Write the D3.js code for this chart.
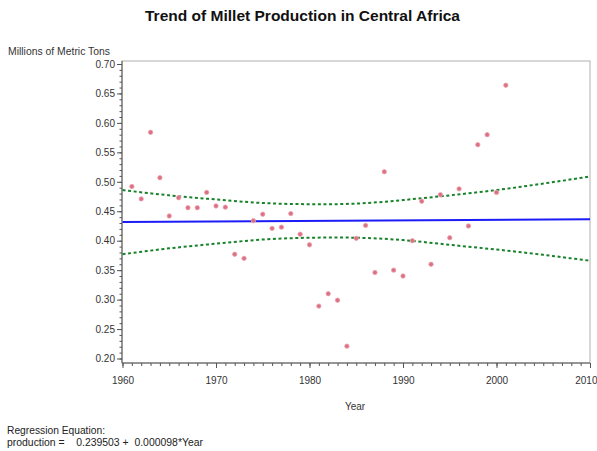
<!DOCTYPE html>
<html>
<head>
<meta charset="utf-8">
<script src="https://cdn.jsdelivr.net/npm/d3@7"></script>
<style>
  html, body { margin: 0; padding: 0; background: #fff; }
  svg { display: block; }
  text { font-family: "Liberation Sans", Arial, sans-serif; }
</style>
</head>
<body>
<svg id="chart" width="597" height="451"></svg>
<script>
// Annual millet production, Central Africa (millions of metric tons)
const years = [1961, 1962, 1963, 1964, 1965, 1966, 1967, 1968, 1969, 1970,
               1971, 1972, 1973, 1974, 1975, 1976, 1977, 1978, 1979, 1980,
               1981, 1982, 1983, 1984, 1985, 1986, 1987, 1988, 1989, 1990,
               1991, 1992, 1993, 1994, 1995, 1996, 1997, 1998, 1999, 2000, 2001];
const production = [0.492, 0.471, 0.584, 0.507, 0.442, 0.473, 0.456, 0.456, 0.482, 0.459,
                    0.457, 0.377, 0.370, 0.434, 0.445, 0.421, 0.423, 0.446, 0.411, 0.393,
                    0.289, 0.310, 0.299, 0.221, 0.404, 0.426, 0.346, 0.517, 0.350, 0.340,
                    0.400, 0.467, 0.360, 0.478, 0.405, 0.488, 0.425, 0.563, 0.580, 0.482, 0.664];

// Fitted regression: production = intercept + slope * Year
const intercept = 0.239503;
const slope = 0.000098;

// 95% confidence limits for the mean
const bandYears = [1960, 1965, 1970, 1975, 1980, 1985, 1990, 1995, 2000, 2005, 2010];
const bandUpper = [0.486, 0.477, 0.470, 0.464, 0.462, 0.463, 0.469, 0.477, 0.486, 0.497, 0.509];
const bandLower = [0.377, 0.387, 0.395, 0.402, 0.405, 0.405, 0.401, 0.393, 0.385, 0.376, 0.366];

// Axis ticks
const xTicks = [1960, 1970, 1980, 1990, 2000, 2010];
const yTicks = [0.20, 0.25, 0.30, 0.35, 0.40, 0.45, 0.50, 0.55, 0.60, 0.65, 0.70];

const svg = d3.select("#chart");

const x = d3.scaleLinear().domain([1960, 2010]).range([122.5, 590]);
const y = d3.scaleLinear().domain([0.20, 0.70]).range([358.5, 64]);

const frame = { left: 122, right: 590, top: 61, bottom: 363 };
const fontStack = "'Liberation Sans', Arial, sans-serif";

// Plot frame (light top/right edges)
svg.append("rect")
  .attr("x", frame.left).attr("y", frame.top)
  .attr("width", frame.right - frame.left)
  .attr("height", frame.bottom - frame.top)
  .attr("fill", "none").attr("stroke", "#b0b0b0").attr("stroke-width", 1);

// Y axis: major and minor ticks
const yMinor = d3.range(0.20, 0.7001, 0.01).map(v => +v.toFixed(2));
const yAxisMinor = svg.append("g")
  .attr("transform", `translate(${frame.left},0)`)
  .call(d3.axisLeft(y).tickValues(yMinor).tickSize(2.5).tickFormat(""));
yAxisMinor.select(".domain").remove();
yAxisMinor.selectAll("line").attr("stroke", "#555");

const yAxis = svg.append("g")
  .attr("transform", `translate(${frame.left},0)`)
  .call(d3.axisLeft(y).tickValues(yTicks).tickSize(5).tickPadding(2)
    .tickFormat(d3.format(".2f")));
yAxis.select(".domain").attr("d", `M0,${frame.top}V${frame.bottom}`).attr("stroke", "#555");
yAxis.selectAll("line").attr("stroke", "#555");
yAxis.selectAll("text")
  .attr("font-size", 10).attr("fill", "#333")
  .style("font-family", fontStack);

// X axis: yearly minor ticks and decade labels
const xMinor = d3.range(1960, 2011, 1);
const xAxisMinor = svg.append("g")
  .attr("transform", `translate(0,${frame.bottom})`)
  .call(d3.axisBottom(x).tickValues(xMinor).tickSize(3).tickFormat(""));
xAxisMinor.select(".domain").remove();
xAxisMinor.selectAll("line").attr("stroke", "#555");

const xAxis = svg.append("g")
  .attr("transform", `translate(0,${frame.bottom})`)
  .call(d3.axisBottom(x).tickValues(xTicks).tickSize(5).tickPadding(9)
    .tickFormat(d3.format("d")));
xAxis.select(".domain").attr("d", `M${frame.left},0H${frame.right}`).attr("stroke", "#555");
xAxis.selectAll("line").attr("stroke", "#555");
xAxis.selectAll("text")
  .attr("font-size", 10).attr("fill", "#333")
  .style("font-family", fontStack);
// keep the last year label inside the canvas
xAxis.selectAll(".tick").filter(d => d === 2010).select("text")
  .attr("text-anchor", "end").attr("x", 7);

// Confidence limits
const bandLine = d3.line().curve(d3.curveNatural);
[bandUpper, bandLower].forEach(vals => {
  svg.append("path")
    .attr("d", bandLine(bandYears.map((yr, i) => [x(yr), y(vals[i])])))
    .attr("fill", "none")
    .attr("stroke", "#17822a")
    .attr("stroke-width", 2)
    .attr("stroke-dasharray", "3,2.6");
});

// Regression line
svg.append("line")
  .attr("x1", x(1960)).attr("y1", y(intercept + slope * 1960))
  .attr("x2", x(2010)).attr("y2", y(intercept + slope * 2010))
  .attr("stroke", "#1c1cf8").attr("stroke-width", 2);

// Observations
svg.append("g").selectAll("circle")
  .data(years.map((yr, i) => ({ yr, v: production[i] })))
  .join("circle")
  .attr("cx", d => x(d.yr))
  .attr("cy", d => y(d.v))
  .attr("r", 2.2)
  .attr("fill", "#dd6f82")
  .attr("stroke", "#eaa3b0")
  .attr("stroke-width", 0.8);

// Title
svg.append("text")
  .attr("x", 302.5).attr("y", 21)
  .attr("text-anchor", "middle")
  .attr("font-size", 14).attr("font-weight", "bold").attr("fill", "#111")
  .attr("textLength", 315).attr("lengthAdjust", "spacingAndGlyphs")
  .text("Trend of Millet Production in Central Africa");

// Axis titles
svg.append("text")
  .attr("x", 8).attr("y", 55)
  .attr("font-size", 10).attr("fill", "#333")
  .attr("textLength", 102).attr("lengthAdjust", "spacingAndGlyphs")
  .text("Millions of Metric Tons");

svg.append("text")
  .attr("x", 355).attr("y", 409.5)
  .attr("text-anchor", "middle")
  .attr("font-size", 10).attr("fill", "#333")
  .text("Year");

// Regression equation footnote
svg.append("text")
  .attr("x", 7).attr("y", 434)
  .attr("font-size", 10).attr("fill", "#222")
  .attr("textLength", 98).attr("lengthAdjust", "spacingAndGlyphs")
  .text("Regression Equation:");

svg.append("text")
  .attr("x", 7).attr("y", 445.5)
  .attr("font-size", 10).attr("fill", "#222")
  .style("white-space", "pre")
  .attr("textLength", 196).attr("lengthAdjust", "spacingAndGlyphs")
  .text(`production =    ${d3.format(".6f")(intercept)} +  ${d3.format(".6f")(slope)}*Year`);
</script>
</body>
</html>
